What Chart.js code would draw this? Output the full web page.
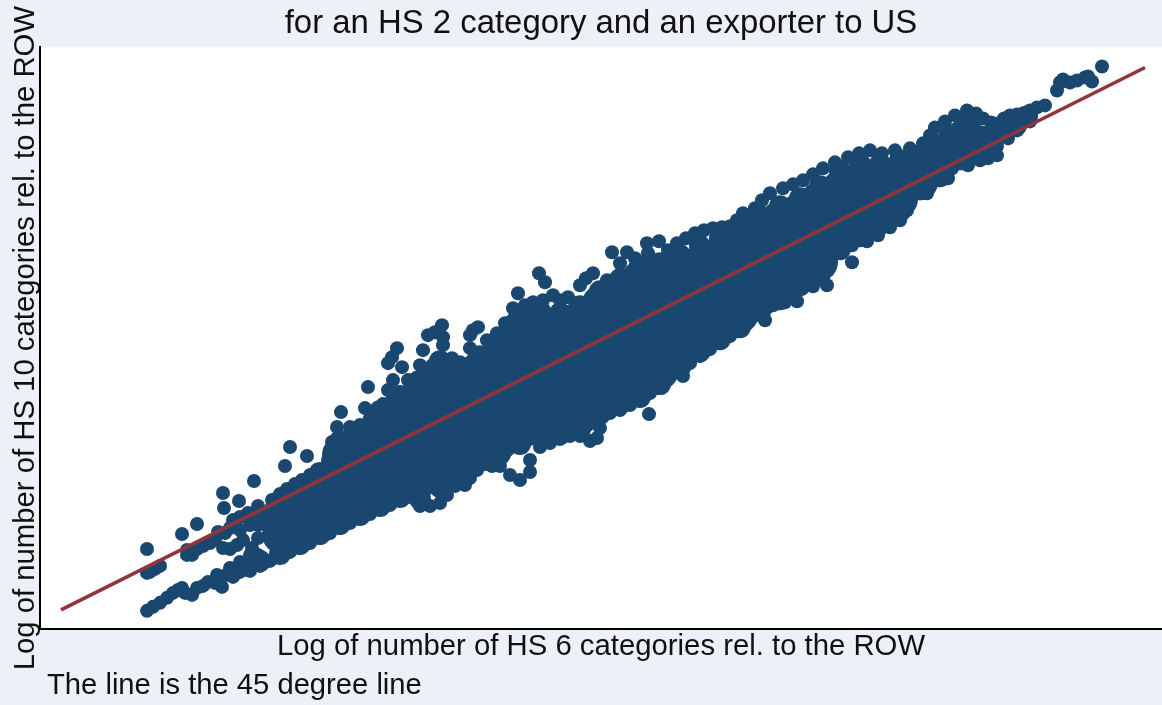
<!DOCTYPE html>
<html>
<head>
<meta charset="utf-8">
<title>HS 10 vs HS 6 categories</title>
<script src="https://cdn.jsdelivr.net/npm/chart.js@4"></script>
<style>
  html, body { margin: 0; padding: 0; background: #edf1f7; }
  canvas { display: block; }
</style>
</head>
<body>
<canvas id="chart" width="1162" height="705"></canvas>
<script>
const titleText = "for an HS 2 category and an exporter to US";
const xTitle = "Log of number of HS 6 categories rel. to the ROW";
const yTitle = "Log of number of HS 10 categories rel. to the ROW";
const noteText = "The line is the 45 degree line";

const lineX = [0, 10.84];
const lineY = [0, 10.86];

// middle of the cloud, read column by column
const coreX = [
  2.19, 2.19,
  2.39, 2.39,
  2.59, 2.59, 2.59,
  2.79, 2.79, 2.79, 2.79,
  2.99, 2.99, 2.99, 2.99,
  3.19, 3.19, 3.19, 3.19,
  3.39, 3.39, 3.39, 3.39,
  3.59, 3.59, 3.59, 3.59, 3.59,
  3.79, 3.79, 3.79, 3.79, 3.79,
  3.99, 3.99, 3.99, 3.99,
  4.19, 4.19, 4.19, 4.19,
  4.39, 4.39, 4.39, 4.39, 4.39,
  4.59, 4.59, 4.59, 4.59, 4.59,
  4.79, 4.79, 4.79, 4.79, 4.79,
  4.99, 4.99, 4.99, 4.99, 4.99,
  5.19, 5.19, 5.19, 5.19, 5.19,
  5.39, 5.39, 5.39, 5.39, 5.39,
  5.59, 5.59, 5.59, 5.59, 5.59,
  5.79, 5.79, 5.79, 5.79, 5.79,
  5.99, 5.99, 5.99, 5.99, 5.99,
  6.19, 6.19, 6.19, 6.19,
  6.39, 6.39, 6.39, 6.39,
  6.59, 6.59, 6.59, 6.59,
  6.79, 6.79, 6.79, 6.79,
  6.99, 6.99, 6.99, 6.99,
  7.19, 7.19, 7.19, 7.19,
  7.39, 7.39, 7.39, 7.39,
  7.59, 7.59, 7.59, 7.59,
  7.79, 7.79, 7.79, 7.79,
  7.99, 7.99, 7.99,
  8.19, 8.19, 8.19,
  8.39, 8.39, 8.39,
  8.59, 8.59,
  8.79, 8.79,
  8.99, 8.99,
  9.19, 9.19
];
const coreY = [
  1.90, 1.50,
  2.20, 1.70,
  2.50, 2.10, 1.70,
  3.10, 2.70, 2.20, 1.96,
  3.34, 2.90, 2.40, 2.14,
  3.74, 3.30, 2.80, 2.32,
  4.04, 3.60, 3.00, 2.50,
  4.34, 3.90, 3.30, 2.90, 2.60,
  4.74, 4.30, 3.70, 3.10, 2.70,
  4.44, 4.00, 3.40, 2.86,
  4.84, 4.40, 3.80, 3.22,
  5.14, 4.70, 4.10, 3.60, 3.36,
  5.64, 5.20, 4.60, 4.00, 3.56,
  5.74, 5.30, 4.70, 4.10, 3.70,
  5.70, 5.20, 4.60, 4.00, 3.76,
  5.84, 5.40, 4.80, 4.20, 3.86,
  6.14, 5.70, 5.10, 4.50, 4.16,
  6.38, 5.90, 5.30, 4.70, 4.36,
  6.64, 6.20, 5.60, 5.00, 4.50,
  6.70, 6.20, 5.60, 5.10, 4.76,
  6.74, 6.30, 5.70, 5.10,
  6.94, 6.50, 5.90, 5.42,
  7.08, 6.60, 6.00, 5.66,
  7.34, 6.90, 6.30, 5.90,
  7.64, 7.20, 6.60, 6.22,
  7.84, 7.40, 6.80, 6.46,
  8.00, 7.50, 7.00, 6.74,
  8.24, 7.80, 7.20, 6.96,
  8.44, 8.00, 7.60, 7.46,
  8.58, 8.20, 7.72,
  8.58, 8.20, 7.96,
  8.64, 8.40, 8.22,
  8.74, 8.56,
  9.08, 8.92,
  9.34, 9.26,
  9.30, 9.30
];

// just inside the edges of the cloud
const rimX = [
  1.99, 2.19, 2.39, 2.59, 2.79, 2.99, 3.19, 3.39, 3.59, 3.79, 3.99, 4.19, 4.39, 4.59, 4.79, 4.99, 5.19, 5.39, 5.59,
  5.79, 5.99, 6.19, 6.39, 6.59, 6.79, 6.99, 7.19, 7.39, 7.59, 7.79, 7.99, 8.19, 8.39, 8.59, 8.79, 8.99, 9.19,
  1.99, 2.19, 2.39, 2.59, 2.79, 2.99, 3.19, 3.39, 3.59, 3.79, 3.99, 4.19, 4.39, 4.59, 4.79, 4.99, 5.19, 5.39, 5.59,
  5.79, 5.99, 6.19, 6.39, 6.59, 6.79, 6.99, 7.19, 7.39, 7.59, 7.79, 7.99, 8.19, 8.39, 8.59, 8.79, 8.99, 9.19,
  8.89, 9.09, 9.29, 9.29, 9.44, 9.55, 9.66
];
const rimY = [
  1.88, 2.18, 2.42, 2.74, 3.38, 3.58, 3.98, 4.28, 4.58, 4.98, 4.68, 5.08, 5.38, 5.88, 5.98, 5.94, 6.08, 6.38, 6.62,
  6.88, 6.94, 7.10, 7.28, 7.44, 7.68, 7.88, 8.08, 8.24, 8.48, 8.78, 8.92, 8.92, 9.00, 9.10, 9.32, 9.58, 9.48,
  0.98, 1.12, 1.32, 1.52, 1.72, 1.90, 2.08, 2.26, 2.22, 2.46, 2.62, 2.98, 3.12, 3.32, 3.46, 3.52, 3.62, 3.92, 4.12,
  4.26, 4.52, 4.86, 5.18, 5.42, 5.66, 5.98, 6.22, 6.50, 6.72, 7.22, 7.48, 7.72, 7.98, 8.42, 8.68, 9.02, 9.12,
  9.50, 9.74, 9.50, 9.30, 9.62, 9.70, 9.88
];

// outliers and the clusters above the line at the left
const leftX = [
  0.86, 0.86, 0.89, 0.94, 0.99, 1.21, 1.36, 1.62, 1.63, 1.78, 1.93, 1.97, 2.24, 2.29, 2.46, 3.04, 3.07,
  1.26, 1.31, 1.26, 1.36, 1.42, 1.49, 1.54, 1.57, 1.62, 1.69, 1.76, 1.82, 1.64, 1.69, 1.72, 1.79, 1.79, 1.87, 1.89
];
const leftY = [
  1.22, 0.74, 0.76, 0.82, 0.88, 1.52, 1.72, 2.34, 2.04, 2.18, 2.58, 2.08, 2.88, 3.26, 3.08, 4.04, 4.46,
  1.10, 1.10, 1.20, 1.22, 1.28, 1.34, 1.40, 1.56, 1.24, 1.22, 1.30, 1.40, 1.54, 1.64, 1.80, 1.86, 1.60, 1.94, 1.70
];

// the lower tail, running into the main cloud
const tailX = [
  0.86, 0.92, 0.99, 1.06, 1.12, 1.17, 1.21, 1.24, 1.31, 1.36, 1.42, 1.47, 1.56, 1.54,
  1.61, 1.65, 1.69, 1.72, 1.79, 1.79, 1.86, 1.91, 1.89, 1.97, 1.91, 1.97, 1.97, 2.04
];
const tailY = [
  -0.02, 0.06, 0.14, 0.24, 0.34, 0.40, 0.44, 0.34, 0.30, 0.44, 0.48, 0.56, 0.70, 0.54,
  0.46, 0.70, 0.84, 0.66, 0.96, 0.76, 0.80, 1.00, 1.10, 1.10, 1.24, 1.44, 1.70, 1.90
];

// top edge of the cloud, left to right
const topX = [
  2.11, 2.19, 2.26, 2.34, 2.41, 2.49, 2.56, 2.67, 2.71, 2.69, 2.76, 2.80, 2.89, 2.99, 3.11, 3.22, 3.27, 3.32, 3.27, 3.31,
  3.36, 3.41, 3.47, 3.55, 3.59, 3.62, 3.67, 3.74, 3.81, 3.82, 3.82, 3.91, 3.99, 4.09, 4.09, 4.12, 4.17, 4.26, 4.36, 4.44,
  4.52, 4.57, 4.64, 4.72, 4.82, 4.92, 4.78, 4.84, 4.99, 5.07, 5.19, 5.25, 5.32, 5.46, 5.59, 5.66, 5.51, 5.74, 5.86, 5.98,
  5.87, 6.07, 6.16, 6.25, 6.34, 6.43, 6.52, 6.61, 6.69, 6.76, 6.82, 6.94, 7.01, 7.09, 7.22, 7.32, 7.42, 7.52, 7.62, 7.74,
  7.87, 7.98, 8.09, 8.21, 8.34, 8.49, 8.62, 8.69, 8.74, 8.84, 8.94, 9.06, 9.15, 9.22, 9.30, 9.37, 9.43, 9.49, 9.56, 9.62,
  9.69, 9.76, 9.84,
  9.96, 9.99, 10.02, 10.09, 10.16, 10.24, 10.27, 10.31, 10.41
];
const topY = [
  2.20, 2.32, 2.42, 2.52, 2.60, 2.70, 2.80, 3.00, 3.36, 3.20, 3.66, 3.96, 3.66, 3.70, 3.84, 4.12, 4.40, 4.60, 4.94, 5.06,
  5.24, 4.86, 4.60, 4.64, 4.90, 5.20, 5.50, 5.56, 5.70, 5.46, 5.30, 5.04, 4.96, 5.24, 5.50, 5.60, 5.66, 5.40, 5.54, 5.74,
  6.04, 6.34, 6.10, 6.16, 6.20, 6.30, 6.74, 6.56, 6.20, 6.26, 6.50, 6.64, 6.74, 6.60, 6.94, 7.16, 7.16, 7.04, 7.34, 7.38,
  7.14, 7.20, 7.34, 7.44, 7.54, 7.60, 7.64, 7.66, 7.68, 7.80, 7.94, 8.04, 8.20, 8.34, 8.44, 8.52, 8.60, 8.72, 8.84, 8.96,
  9.06, 9.14, 9.20, 9.14, 9.20, 9.24, 9.34, 9.50, 9.66, 9.78, 9.90, 10.00, 9.94, 9.84, 9.76, 9.74, 9.84, 9.90, 9.92, 9.94,
  10.00, 10.06, 10.10,
  10.40, 10.56, 10.62, 10.56, 10.60, 10.66, 10.68, 10.58, 10.88
];

// bottom edge of the cloud, left to right
const bottomX = [
  1.89, 1.99, 2.09, 2.19, 2.29, 2.39, 2.49, 2.59, 2.69, 2.79, 2.89, 2.99, 3.09, 3.19, 3.29, 3.39, 3.47, 3.59, 3.69, 3.79,
  3.86, 3.94, 4.04, 4.09, 4.16, 4.24, 4.31, 4.39, 4.49, 4.59, 4.69, 4.69, 4.79, 4.89, 4.99, 5.09, 5.19, 5.29, 5.36, 5.39,
  5.49, 5.59, 5.69, 5.79, 5.88, 5.89, 5.99, 6.09, 6.22, 6.29, 6.39, 6.49, 6.59, 6.69, 6.77, 6.89, 7.04, 7.12, 7.24, 7.36,
  7.37, 7.52, 7.66, 7.67, 7.64, 7.76, 7.91, 7.91, 8.06, 8.17, 8.29, 8.39, 8.46, 8.51, 8.66, 8.67, 8.77, 8.87, 8.91, 9.07,
  9.19, 9.27, 9.36, 9.36, 9.36, 9.47, 9.56, 9.69
];
const bottomY = [
  0.78, 0.88, 0.98, 1.08, 1.16, 1.24, 1.34, 1.44, 1.54, 1.64, 1.74, 1.84, 1.92, 2.02, 2.10, 2.20, 2.26, 2.08, 2.08, 2.14,
  2.30, 2.48, 2.50, 2.64, 2.80, 2.92, 2.88, 2.88, 2.70, 2.60, 2.76, 3.00, 3.26, 3.34, 3.42, 3.48, 3.48, 3.38, 3.44, 3.64,
  3.94, 4.00, 4.10, 4.24, 3.92, 4.34, 4.48, 4.66, 4.68, 4.94, 5.08, 5.22, 5.34, 5.48, 5.58, 5.80, 5.80, 6.10, 6.16, 6.18,
  6.44, 6.48, 6.50, 6.80, 6.94, 7.14, 6.96, 7.30, 7.38, 7.50, 7.66, 7.80, 8.00, 8.28, 8.34, 8.54, 8.60, 8.64, 8.84, 8.90,
  9.00, 9.04, 9.10, 9.28, 9.48, 9.44, 9.60, 9.78
];

function toPoints(xs, ys) {
  return xs.map((x, i) => ({ x: x, y: ys[i] }));
}

const navy = "#1a476f";
const textColor = "#111111";
const fontFamily = "'Liberation Sans', Arial, sans-serif";
const textFont = { family: fontFamily, size: 29.3, weight: "normal" };

// white plot region on the tinted page, note under the axis title
const plotExtras = {
  id: "plotExtras",
  beforeDraw(chart) {
    const a = chart.chartArea;
    chart.ctx.save();
    chart.ctx.fillStyle = "#ffffff";
    chart.ctx.fillRect(a.left, a.top, a.right - a.left, a.bottom - a.top);
    chart.ctx.restore();
  },
  afterDraw(chart) {
    const ctx = chart.ctx;
    ctx.save();
    ctx.fillStyle = textColor;
    ctx.font = "29.2px " + fontFamily;
    ctx.textBaseline = "middle";
    ctx.fillText(noteText, 47, 686);
    ctx.restore();
  }
};

function cloudSeries(label, xs, ys, radius) {
  return {
    label: label,
    data: toPoints(xs, ys),
    backgroundColor: navy,
    borderWidth: 0,
    pointRadius: radius,
    order: 1
  };
}

const context = document.getElementById("chart");

let config = {
  type: "scatter",
  plugins: [plotExtras],
  data: {
    datasets: [
      {
        label: "45 degree line",
        data: toPoints(lineX, lineY),
        showLine: true,
        borderColor: "#90353b",
        borderWidth: 3.5,
        pointRadius: 0,
        order: 0
      },
      cloudSeries("cloud", coreX, coreY, 18),
      cloudSeries("rim", rimX, rimY, 11),
      cloudSeries("left", leftX, leftY, 7),
      cloudSeries("tail", tailX, tailY, 7),
      cloudSeries("top", topX, topY, 7),
      cloudSeries("bottom", bottomX, bottomY, 7)
    ]
  },
  options: {
    responsive: false,
    animation: false,
    layout: { autoPadding: false, padding: { left: 5, right: 0, top: 0, bottom: 41 } },
    plugins: {
      legend: { display: false },
      tooltip: { enabled: false },
      title: {
        display: true,
        fullSize: false,
        text: titleText,
        color: textColor,
        font: { family: fontFamily, size: 32.9, weight: "normal" },
        padding: { top: 4, bottom: 4 }
      }
    },
    scales: {
      x: {
        type: "linear",
        min: -0.21,
        max: 11.01,
        grid: { display: false, drawTicks: false },
        border: { color: "#000000", width: 2 },
        ticks: { display: false },
        title: {
          display: true,
          text: xTitle,
          color: textColor,
          font: textFont,
          padding: { top: 0, bottom: 0 }
        }
      },
      y: {
        type: "linear",
        min: -0.38,
        max: 11.26,
        grid: { display: false, drawTicks: false },
        border: { color: "#000000", width: 2 },
        ticks: { display: false },
        title: {
          display: true,
          text: yTitle,
          color: textColor,
          font: textFont,
          padding: { top: 3, bottom: 0 }
        },
        afterFit(scale) {
          scale.width = 35;
        }
      }
    }
  }
};

chart = new Chart(context, config);
</script>
</body>
</html>
